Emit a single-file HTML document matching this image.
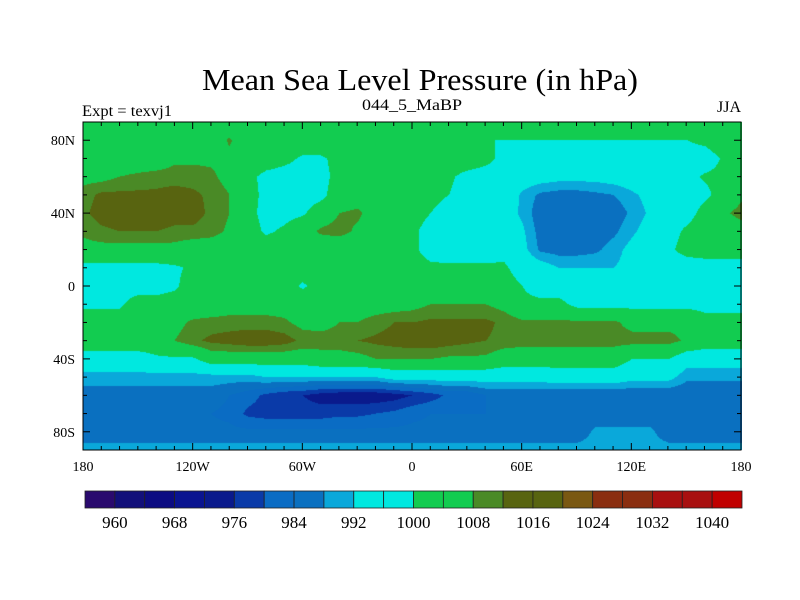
<!DOCTYPE html>
<html><head><meta charset="utf-8"><style>
html,body{margin:0;padding:0;background:#fff;width:800px;height:600px;overflow:hidden}
#wrap{position:relative;width:800px;height:600px}
svg{position:absolute;left:0;top:0}
canvas{position:absolute;left:83px;top:122px}
text{font-family:"Liberation Serif",serif;fill:#000}
</style></head><body>
<div id="wrap">
<canvas id="map" width="659" height="328"></canvas>
<svg id="svg" width="800" height="600">
<text x="420" y="90" font-size="31" text-anchor="middle" textLength="436" lengthAdjust="spacingAndGlyphs">Mean Sea Level Pressure (in hPa)</text>
<text x="82" y="116" font-size="16" textLength="90" lengthAdjust="spacingAndGlyphs">Expt = texvj1</text>
<text x="412" y="110" font-size="16" text-anchor="middle" textLength="100" lengthAdjust="spacingAndGlyphs">044_5_MaBP</text>
<text x="741" y="112" font-size="16" text-anchor="end">JJA</text>
<g id="ticks"></g>
<rect x="83" y="122" width="658" height="328" fill="none" stroke="#000" stroke-width="1"/>
<g id="cbar"></g>
</svg>
</div>
<script>
const lons=[];for(let l=-180;l<=180;l+=10)lons.push(l);
const lats=[90,80,70,60,50,40,30,20,10,0,-10,-20,-30,-40,-50,-60,-70,-80,-90];
const rep=(v,n)=>Array(n).fill(v);
const mslp=[
rep(1005,37),
[...rep(1005,8),1008.5,...rep(1005,12),1002,...rep(1000,12),1001,1003,1005],
[...rep(1004,5),...rep(1007,5),1004,1002,999,999,1002,...rep(1004,7),1002,...rep(998,12),1000.5,1002],
[1006,1006,1008,1009,1010,1010,1010,1009,1006,1002,998,997,997,998,1002,1004,1004,1004,1004,1003,1001,998,997,997,996,995,994,994,994,995,996,997,998,999,1000.5,1001,1002],
[1010,1013,1013,1013,1013,1014,1013,1011,1008,1003,998,997,997,998,1004,1005,1004,1004,1004,1002,1000,997,997,997,991,987,986,986,987,988,991,994,997,997,999,1002,1007],
[1011,1014,1015,1015,1015,1014,1014,1011,1008,1002,998,998,999,1004,1008,1009,1005,1003,1002,1000,997,997,997,995,991,985,984,984,984,985,989,993,997,998,1002,1007,1010],
[1009,1011,1012,1012,1012,1011,1011,1010,1007,1003,999,1001,1005,1009,1010,1007,1005,1003,1001,998,997,997,997,997,993,986,985,985,985,987,991,995,998,1001,1003,1004,1005],
[...rep(1006,6),...rep(1004,7),...rep(1003,4),1002,1001,998,997,997,997,998,994,987,986,986,987,990,994,998,999,1002,1003,1003,1003],
[...rep(998,5),999,1001,...rep(1004,10),1003,1002,...rep(1001,5),997,995,992,992,992,992,994,...rep(997,6)],
[...rep(997,5),999,...rep(1003,6),999,...rep(1003,11),1000,...rep(996,12)],
[...rep(999,3),...rep(1003,5),...rep(1005,10),1006,...rep(1008,4),1006,...rep(1002,3),...rep(998,10)],
[1003,1003,1003,1003,1003,1006,1009,1010,1010,1010,1010,1009,1006,1006,1008,1008,1010,1012,1012,1013,1013,1013,1013,1011,1009,1009,1009,1009,1009,1009,1006,1006,1006,1006,1002,1002,1002],
[1004,1004,1004,1004,1004,1008,1011,1013,1014,1015,1015,1014,1011,1010,1010,1012,1013,1014,1015,1015,1014,1013,1012,1011,1010,1010,1010,1010,1010,1010,1010,1010,1010,1007,1004,1004,1004],
[997,997,997,997,999,999,999,1004,1004,1004,1004,1004,1004,1006,1006,1006,1008,1008,1008,1008,1007,1007,1007,1004,1004,1004,1004,1004,1004,1004,1000,1000,1000,995,995,995,995],
[...rep(990,10),...rep(992,7),...rep(995,9),...rep(996,4),...rep(994,3),...rep(989,4)],
[...rep(986,8),984,982,979,977,976,974,973,973,973,974,976,978,981,981,...rep(984,15)],
[...rep(984,8),983,979,978,978,978,978,979,979,980,981,983,...rep(984,7),...rep(985,6),...rep(984,5)],
[...rep(985,28),989,989,989,989,...rep(985,5)],
rep(990,37)
];
const levels=[];for(let v=960;v<=1040;v+=4)levels.push(v);
const colors=["#2a0a6e","#12107a","#0c0c82","#0a1490","#0a1a8c","#0a3aa8","#0a6cc4","#0a70c0","#0aa8da","#00e8e0","#00e8e0","#12cc50","#12cc50","#4a8a26","#586410","#586410","#7a5812","#8a2e10","#8a2e10","#a81010","#a81010","#c00000"];
const cbLabels=[960,968,976,984,992,1000,1008,1016,1024,1032,1040];
const lonTicks=[-180,-120,-60,0,60,120,180];
const lonTickLabels=["180","120W","60W","0","60E","120E","180"];
const latTicks=[80,40,0,-40,-80];
const latTickLabels=["80N","40N","0","40S","80S"];
const X0=83,X1=741,Y0=122,Y1=450;
const xOf=lon=>X0+(lon+180)/360*(X1-X0);
const yOf=lat=>Y0+(90-lat)/180*(Y1-Y0);
function lvl(v){let k=0;while(k<levels.length&&v>=levels[k])k++;return k;}
function hex(c){return [parseInt(c.substr(1,2),16),parseInt(c.substr(3,2),16),parseInt(c.substr(5,2),16)];}
const rgb=colors.map(hex);
const cv=document.getElementById('map'),ctx=cv.getContext('2d');
const W=cv.width,H=cv.height,img=ctx.createImageData(W,H);
const g=(j,i)=>{const r=mslp[j];const v=r[i];return (v===undefined)?r[r.length-1]:v;};
for(let py=0;py<H;py++){
  const lat=90-(py+0.5)/H*180;const fy=(90-lat)/10;let j=Math.min(Math.floor(fy),17);const ty=fy-j;
  for(let px=0;px<W;px++){
    const lon=-180+(px+0.5)/W*360;const fx=(lon+180)/10;let i=Math.min(Math.floor(fx),35);const tx=fx-i;
    const v=(g(j,i)*(1-tx)+g(j,i+1)*tx)*(1-ty)+(g(j+1,i)*(1-tx)+g(j+1,i+1)*tx)*ty;
    const c=rgb[lvl(v)];const o=(py*W+px)*4;
    img.data[o]=c[0];img.data[o+1]=c[1];img.data[o+2]=c[2];img.data[o+3]=255;
  }
}
ctx.putImageData(img,0,0);
const NS='http://www.w3.org/2000/svg';
function el(t,a,p){const e=document.createElementNS(NS,t);for(const k in a)e.setAttribute(k,a[k]);p.appendChild(e);return e;}
const tg=document.getElementById('ticks');
for(let l=-180;l<=180;l+=10){
  const x=xOf(l);const len=(l%60===0)?7:4;
  const a=el('line',{x1:x,x2:x,y1:Y1,y2:Y1-len,stroke:'#000'},tg);
  
  
  const b=el('line',{x1:x,x2:x,y1:Y0,y2:Y0+len,stroke:'#000'},tg);
  
  
}
for(let l=-90;l<=90;l+=10){
  const y=yOf(l);const len=(l%40===0)?7:4;
  const a=el('line',{x1:X0,x2:X0+len,y1:y,y2:y,stroke:'#000'},tg);
  
  
  const b=el('line',{x1:X1,x2:X1-len,y1:y,y2:y,stroke:'#000'},tg);
  
  
}
lonTicks.forEach((l,i)=>{
  const t=el('text',{x:xOf(l),y:471,'font-size':14,'text-anchor':'middle'},tg);
  t.textContent=lonTickLabels[i];
  
  
});
latTicks.forEach((l,i)=>{
  const t=el('text',{x:75,y:yOf(l)+5,'font-size':14,'text-anchor':'end'},tg);
  t.textContent=latTickLabels[i];
  
  
});
const cb=document.getElementById('cbar');
const CB0=85,CB1=742,bw=(CB1-CB0)/colors.length;
colors.forEach((c,k)=>{
  const r=el('rect',{x:CB0+k*bw,y:491,width:bw,height:17,fill:c,stroke:'#222','stroke-width':0.8},cb);
  
  
});
cbLabels.forEach(v=>{
  const k=(v-960)/4+1;
  const t=el('text',{x:CB0+k*bw,y:528,'font-size':17,'text-anchor':'middle'},cb);
  t.textContent=v;
  
  
});
</script>
</body></html>
